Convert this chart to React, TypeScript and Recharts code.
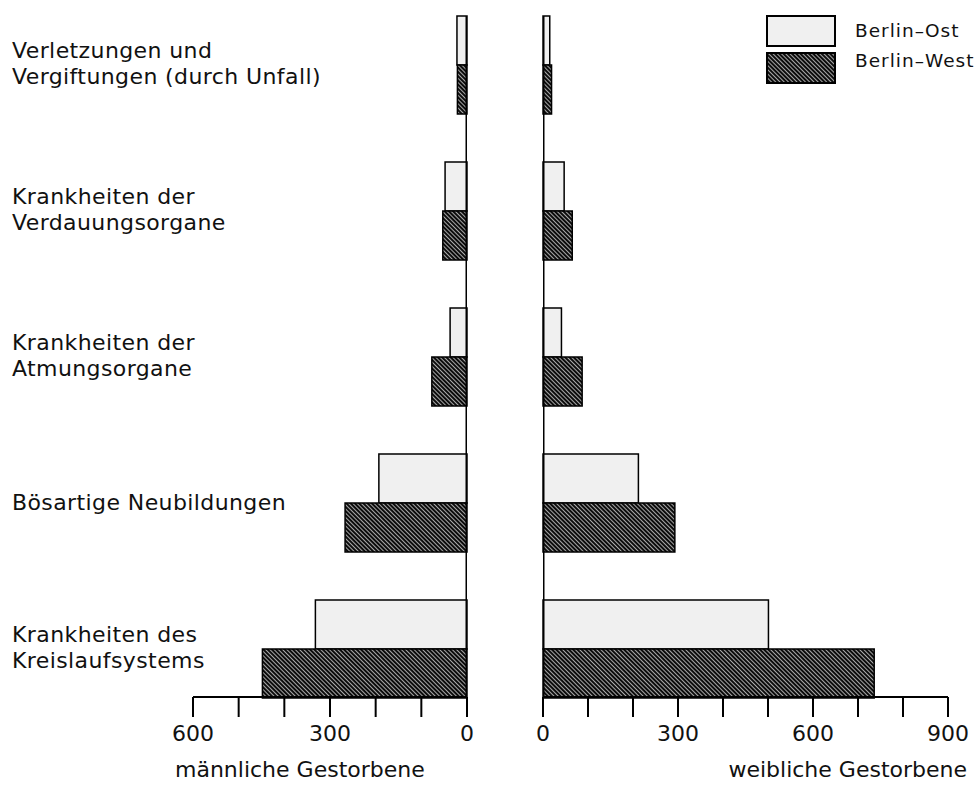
import React from 'react';
import { BarChart, Bar, XAxis, YAxis, ReferenceLine, Legend } from 'recharts';

const categories = [
  'Verletzungen und\nVergiftungen (durch Unfall)',
  'Krankheiten der\nVerdauungsorgane',
  'Krankheiten der\nAtmungsorgane',
  'Bösartige Neubildungen',
  'Krankheiten des\nKreislaufsystems',
];
const maleOst = [22, 48, 37, 193, 332];
const maleWest = [21, 53, 77, 267, 448];
const femaleOst = [15, 47, 41, 212, 501];
const femaleWest = [19, 65, 87, 293, 736];

const maleTicks = [0, 100, 200, 300, 400, 500, 600];
const maleTickLabels = [0, 300, 600];
const femaleTicks = [0, 100, 200, 300, 400, 500, 600, 700, 800, 900];
const femaleTickLabels = [0, 300, 600, 900];

const seriesNames = ['Berlin–Ost', 'Berlin–West'];
const maleTitle = 'männliche Gestorbene';
const femaleTitle = 'weibliche Gestorbene';

const data = categories.map((cat, i) => ({
  cat,
  maleOst: maleOst[i],
  maleWest: maleWest[i],
  femaleOst: femaleOst[i],
  femaleWest: femaleWest[i],
}));

const FONT = "'DejaVu Sans', Verdana, sans-serif";
const INK = '#111';
const OST_FILL = '#f0f0f0';
const WEST_FILL = 'url(#hatchWest)';
const LABEL_X = 12;

const CategoryTick = (props: any) => {
  const { y, payload } = props;
  const lines = String(payload.value).split('\n');
  const first = lines.length === 1 ? y + 7 : y - 6.5;
  return (
    <text fontFamily={FONT} fontSize={22} letterSpacing={0.4} fill={INK} textAnchor="start">
      {lines.map((l, i) => (
        <tspan key={i} x={LABEL_X} y={first + i * 26}>
          {l}
        </tspan>
      ))}
    </text>
  );
};

const makeNumTick = (labels: number[]) => (props: any) => {
  const { x, y, payload } = props;
  if (!labels.includes(payload.value)) return <g />;
  return (
    <text x={x} y={y + 24} textAnchor="middle" fontFamily={FONT} fontSize={22} fill={INK}>
      {payload.value}
    </text>
  );
};

const MaleTick = makeNumTick(maleTickLabels);
const FemaleTick = makeNumTick(femaleTickLabels);

const MaleTitle = (props: any) => {
  const vb = props.viewBox || { x: 193, y: 697, width: 274, height: 93 };
  return (
    <text x={vb.x - 18} y={vb.y + 80} textAnchor="start" fontFamily={FONT} fontSize={22} fill={INK}>
      {maleTitle}
    </text>
  );
};

const FemaleTitle = (props: any) => {
  const vb = props.viewBox || { x: 543, y: 697, width: 405, height: 93 };
  return (
    <text x={vb.x + vb.width + 19} y={vb.y + 80} textAnchor="end" fontFamily={FONT} fontSize={22} fill={INK}>
      {femaleTitle}
    </text>
  );
};

const LegendContent = (props: any) => {
  const payload = props.payload && props.payload.length ? props.payload : seriesNames.map((n, i) => ({ value: n, color: i === 0 ? OST_FILL : WEST_FILL }));
  return (
    <svg width={210} height={72} style={{ display: 'block', overflow: 'visible' }}>
      {payload.map((e: any, i: number) => (
        <g key={i}>
          <rect x={1} y={1 + i * 37} width={68} height={30} fill={e.color} stroke="#000" strokeWidth={2} />
          <text x={89} y={22 + i * 30} fontFamily={FONT} fontSize={18.5} letterSpacing={1} fill={INK}>
            {e.value}
          </text>
        </g>
      ))}
    </svg>
  );
};

const barProps = { stroke: '#000', strokeWidth: 1.5, isAnimationActive: false };

export default function App() {
  return (
    <div style={{ position: 'absolute', left: 0, top: 0, width: 976, height: 790, background: '#fff' }}>
      <svg width={0} height={0} style={{ position: 'absolute' }}>
        <defs>
          <pattern id="hatchWest" width={3} height={3} patternUnits="userSpaceOnUse" patternTransform="rotate(-45)">
            <rect width={3} height={3} fill="#0c0c0c" />
            <line x1={1.5} y1={0} x2={1.5} y2={3} stroke="#a8a8a8" strokeWidth={1} />
          </pattern>
        </defs>
      </svg>

      <div style={{ position: 'absolute', left: 0, top: 0 }}>
        <BarChart
          width={976}
          height={790}
          layout="vertical"
          data={data}
          margin={{ top: 16, right: 509, bottom: 0, left: 0 }}
          barGap={0}
          barCategoryGap={24.5}
        >
          <YAxis
            type="category"
            dataKey="cat"
            width={193}
            axisLine={false}
            tickLine={false}
            interval={0}
            padding={{ top: -24.5, bottom: -24.5 }}
            tick={CategoryTick}
          />
          <XAxis
            type="number"
            domain={[0, 600]}
            ticks={maleTicks}
            reversed
            interval={0}
            height={93}
            tickSize={20}
            tickMargin={0}
            axisLine={{ stroke: '#000', strokeWidth: 2 }}
            tickLine={{ stroke: '#000', strokeWidth: 2 }}
            tick={MaleTick}
            label={MaleTitle}
          />
          <Bar dataKey="maleOst" name={seriesNames[0]} fill={OST_FILL} {...barProps} />
          <Bar dataKey="maleWest" name={seriesNames[1]} fill={WEST_FILL} {...barProps} />
          <ReferenceLine x={0} stroke="#000" strokeWidth={3} ifOverflow="hidden" />
        </BarChart>
      </div>

      <div style={{ position: 'absolute', left: 0, top: 0 }}>
        <BarChart
          width={976}
          height={790}
          layout="vertical"
          data={data}
          margin={{ top: 16, right: 28, bottom: 0, left: 543 }}
          barGap={0}
          barCategoryGap={24.5}
        >
          <YAxis type="category" dataKey="cat" hide interval={0} padding={{ top: -24.5, bottom: -24.5 }} />
          <XAxis
            type="number"
            domain={[0, 900]}
            ticks={femaleTicks}
            interval={0}
            height={93}
            tickSize={20}
            tickMargin={0}
            axisLine={{ stroke: '#000', strokeWidth: 2 }}
            tickLine={{ stroke: '#000', strokeWidth: 2 }}
            tick={FemaleTick}
            label={FemaleTitle}
          />
          <Bar dataKey="femaleOst" name={seriesNames[0]} fill={OST_FILL} {...barProps} />
          <Bar dataKey="femaleWest" name={seriesNames[1]} fill={WEST_FILL} {...barProps} />
          <ReferenceLine x={0} stroke="#000" strokeWidth={3} ifOverflow="hidden" />
          <Legend
            layout="horizontal"
            verticalAlign="middle"
            align="center"
            wrapperStyle={{ top: 15, left: 766, width: 210, height: 72 }}
            content={LegendContent}
          />
        </BarChart>
      </div>
    </div>
  );
}
